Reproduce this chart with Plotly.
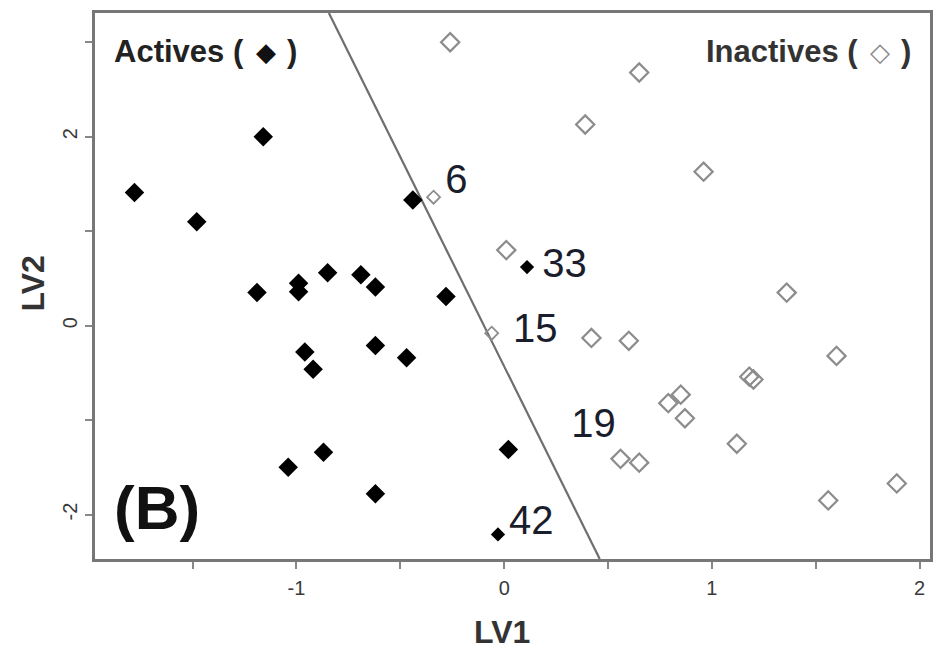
import plotly.graph_objects as go

# Actives (filled black diamonds)
active_x = [-1.78, -1.48, -1.16, -1.19, -0.99, -0.99, -0.85, -0.69, -0.62, -0.28, -0.44,
            -0.96, -0.92, -0.62, -0.47, -1.04, -0.87, -0.62, 0.02]
active_y = [1.41, 1.10, 2.00, 0.35, 0.45, 0.36, 0.56, 0.54, 0.41, 0.31, 1.33,
            -0.28, -0.46, -0.21, -0.34, -1.50, -1.34, -1.78, -1.31]
# labelled actives
active_lab_x = [0.11, -0.03]
active_lab_y = [0.62, -2.21]

# Inactives (open gray diamonds)
inactive_x = [-0.26, 0.65, 0.39, 0.96, 1.36, 0.01, 0.42, 0.60, 1.60, 1.18, 1.20,
              0.85, 0.79, 0.87, 1.12, 0.56, 0.65, 1.56, 1.89]
inactive_y = [3.00, 2.68, 2.13, 1.63, 0.35, 0.80, -0.13, -0.16, -0.32, -0.54, -0.57,
              -0.73, -0.82, -0.98, -1.25, -1.41, -1.45, -1.85, -1.67]
# labelled inactives
inactive_lab_x = [-0.34, -0.06]
inactive_lab_y = [1.36, -0.08]

# compound labels
label_text = ["6", "33", "15", "19", "42"]
label_x = [-0.23, 0.29, 0.15, 0.43, 0.13]
label_y = [1.51, 0.62, -0.07, -1.07, -2.10]

# separating line
boundary_x = [-0.844, 0.46]
boundary_y = [3.31, -2.47]

x_ticks = [-1.5, -1, -0.5, 0, 0.5, 1, 1.5, 2]
x_ticktext = ["", "-1", "", "0", "", "1", "", "2"]
y_ticks = [-2, -1, 0, 1, 2, 3]
y_ticktext = ["-2", "", "0", "", "2", ""]

FONT = "Liberation Sans, Arial"
GRAY = "#8c8c8c"

fig = go.Figure()
fig.add_trace(go.Scatter(x=boundary_x, y=boundary_y, mode="lines",
                         line=dict(color="#6e6e6e", width=2.2), hoverinfo="skip"))
fig.add_trace(go.Scatter(x=active_x, y=active_y, mode="markers",
                         marker=dict(symbol="diamond", size=15, color="black")))
fig.add_trace(go.Scatter(x=active_lab_x, y=active_lab_y, mode="markers",
                         marker=dict(symbol="diamond", size=11, color="black")))
fig.add_trace(go.Scatter(x=inactive_x, y=inactive_y, mode="markers",
                         marker=dict(symbol="diamond-open", size=14, color=GRAY,
                                     line=dict(width=2.2, color=GRAY))))
fig.add_trace(go.Scatter(x=inactive_lab_x, y=inactive_lab_y, mode="markers",
                         marker=dict(symbol="diamond-open", size=10, color=GRAY,
                                     line=dict(width=1.8, color=GRAY))))
fig.add_trace(go.Scatter(x=label_x, y=label_y, mode="text", text=label_text,
                         textfont=dict(family=FONT, size=40, color="#1a1d2b"),
                         hoverinfo="skip"))

tick_font = dict(family=FONT, size=20, color="#3a3a3a")

axis_common = dict(showgrid=False, zeroline=False, showline=True, mirror=True,
                   linecolor="#777777", linewidth=2.5, ticks="outside", ticklen=7,
                   tickcolor="#888888", tickwidth=1.5)


def ann(text, x, y, size, color, xanchor="center", angle=0, bold=True, family=FONT):
    t = f"<b>{text}</b>" if bold else text
    return dict(text=t, xref="paper", yref="paper", x=x, y=y, showarrow=False,
                xanchor=xanchor, yanchor="middle", textangle=angle,
                font=dict(family=family, size=size, color=color))


fig.update_layout(
    width=935, height=652,
    margin=dict(l=95, r=2, t=13, b=93),
    paper_bgcolor="white", plot_bgcolor="white",
    showlegend=False,
    xaxis=dict(range=[-1.97, 2.05], tickvals=x_ticks, ticktext=x_ticktext,
               tickfont=tick_font, ticklabelstandoff=2, **axis_common),
    yaxis=dict(range=[-2.47, 3.31], tickvals=y_ticks, ticktext=y_ticktext,
               tickfont=tick_font, tickangle=-90, ticklabelstandoff=0, **axis_common),
    annotations=[
        ann("LV1", 0.488, -0.134, 32, "#333333"),
        ann("LV2", -0.074, 0.505, 32, "#333333", angle=-90),
        ann("Actives (", 0.1814, 0.929, 31, "#222222", xanchor="right"),
        ann("◆", 0.2053, 0.929, 26, "#111111", bold=False, family="DejaVu Sans"),
        ann(")", 0.2357, 0.929, 31, "#222222"),
        ann("Inactives (", 0.9165, 0.929, 31, "#333333", xanchor="right"),
        ann("◇", 0.9403, 0.929, 26, GRAY, family="DejaVu Sans"),
        ann(")", 0.9714, 0.929, 31, "#333333"),
        ann("(B)", 0.074, 0.095, 62, "#111111"),
    ],
)

fig.write_html("out.html")
